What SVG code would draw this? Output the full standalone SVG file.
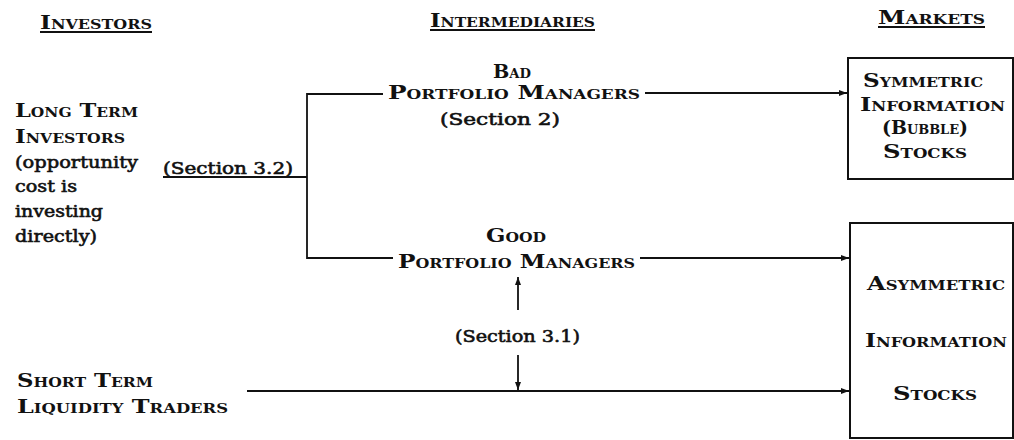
<svg xmlns="http://www.w3.org/2000/svg" width="1014" height="440" viewBox="0 0 1014 440">
<defs>
<marker id="ah" viewBox="0 0 8 6" refX="8" refY="3" markerWidth="8" markerHeight="6" markerUnits="userSpaceOnUse" orient="auto-start-reverse">
<path d="M0,0 L8,3 L0,6 z" fill="#111"/>
</marker>
<style>
text{font-family:"DejaVu Serif","Liberation Serif",serif;fill:#111;}
.sc{font-variant:small-caps;font-size:19px;font-weight:bold;}
.b{font-size:17px;font-weight:normal;stroke:#111;stroke-width:0.6;}
.ln{stroke:#111;stroke-width:1.8;fill:none;}
.box{stroke:#111;stroke-width:2;fill:#fff;}
</style>
</defs>
<rect width="1014" height="440" fill="#fff"/>

<g id="headers">
<text class="sc" x="40" y="29" textLength="112" lengthAdjust="spacingAndGlyphs">Investors</text>
<line class="ln" x1="40" y1="32" x2="152" y2="32"/>
<text class="sc" x="430" y="27" textLength="165" lengthAdjust="spacingAndGlyphs">Intermediaries</text>
<line class="ln" x1="430" y1="30" x2="595" y2="30"/>
<text class="sc" x="878" y="24" textLength="107" lengthAdjust="spacingAndGlyphs">Markets</text>
<line class="ln" x1="878" y1="27" x2="985" y2="27"/>
</g>

<g id="long-term-investors">
<text class="sc" x="15" y="117" textLength="123" lengthAdjust="spacingAndGlyphs">Long Term</text>
<text class="sc" x="15" y="143" textLength="110" lengthAdjust="spacingAndGlyphs">Investors</text>
<text class="b" x="15" y="168" textLength="123" lengthAdjust="spacingAndGlyphs">(opportunity</text>
<text class="b" x="15" y="192" textLength="62" lengthAdjust="spacingAndGlyphs">cost is</text>
<text class="b" x="15" y="217" textLength="88" lengthAdjust="spacingAndGlyphs">investing</text>
<text class="b" x="15" y="242" textLength="82" lengthAdjust="spacingAndGlyphs">directly)</text>
</g>

<g id="short-term-traders">
<text class="sc" x="17" y="387" textLength="136" lengthAdjust="spacingAndGlyphs">Short Term</text>
<text class="sc" x="17" y="413" textLength="211" lengthAdjust="spacingAndGlyphs">Liquidity Traders</text>
</g>

<g id="bad-managers">
<text class="sc" x="493" y="78" textLength="38" lengthAdjust="spacingAndGlyphs">Bad</text>
<text class="sc" x="388" y="99" textLength="252" lengthAdjust="spacingAndGlyphs">Portfolio Managers</text>
<text class="b" x="440" y="125" textLength="120" lengthAdjust="spacingAndGlyphs">(Section 2)</text>
</g>

<g id="good-managers">
<text class="sc" x="486" y="242" textLength="60" lengthAdjust="spacingAndGlyphs">Good</text>
<text class="sc" x="398" y="268" textLength="237" lengthAdjust="spacingAndGlyphs">Portfolio Managers</text>
</g>

<g id="symmetric-box">
<rect class="box" x="848" y="58" width="165" height="121"/>
<text class="sc" x="863" y="87" textLength="120" lengthAdjust="spacingAndGlyphs">Symmetric</text>
<text class="sc" x="860" y="111" textLength="145" lengthAdjust="spacingAndGlyphs">Information</text>
<text class="sc" x="882" y="134" textLength="86" lengthAdjust="spacingAndGlyphs">(Bubble)</text>
<text class="sc" x="883" y="158" textLength="84" lengthAdjust="spacingAndGlyphs">Stocks</text>
</g>

<g id="asymmetric-box">
<rect class="box" x="850" y="223" width="163" height="215"/>
<text class="sc" x="867" y="290" textLength="138" lengthAdjust="spacingAndGlyphs">Asymmetric</text>
<text class="sc" x="865" y="347" textLength="142" lengthAdjust="spacingAndGlyphs">Information</text>
<text class="sc" x="893" y="400" textLength="84" lengthAdjust="spacingAndGlyphs">Stocks</text>
</g>

<g id="connectors">
<text class="b" x="163" y="174" textLength="130" lengthAdjust="spacingAndGlyphs">(Section 3.2)</text>
<polyline class="ln" points="163,177 307,177"/>
<polyline class="ln" points="383,94 307,94 307,258 393,258"/>
<line class="ln" x1="645" y1="93" x2="847" y2="93" marker-end="url(#ah)"/>
<line class="ln" x1="640" y1="258" x2="849" y2="258" marker-end="url(#ah)"/>
<line class="ln" x1="247" y1="391" x2="849" y2="391" marker-end="url(#ah)"/>
<line class="ln" x1="518" y1="310" x2="518" y2="277" marker-end="url(#ah)"/>
<text class="b" x="455" y="342" textLength="125" lengthAdjust="spacingAndGlyphs">(Section 3.1)</text>
<line class="ln" x1="518" y1="355" x2="518" y2="390" marker-end="url(#ah)"/>
</g>
</svg>
